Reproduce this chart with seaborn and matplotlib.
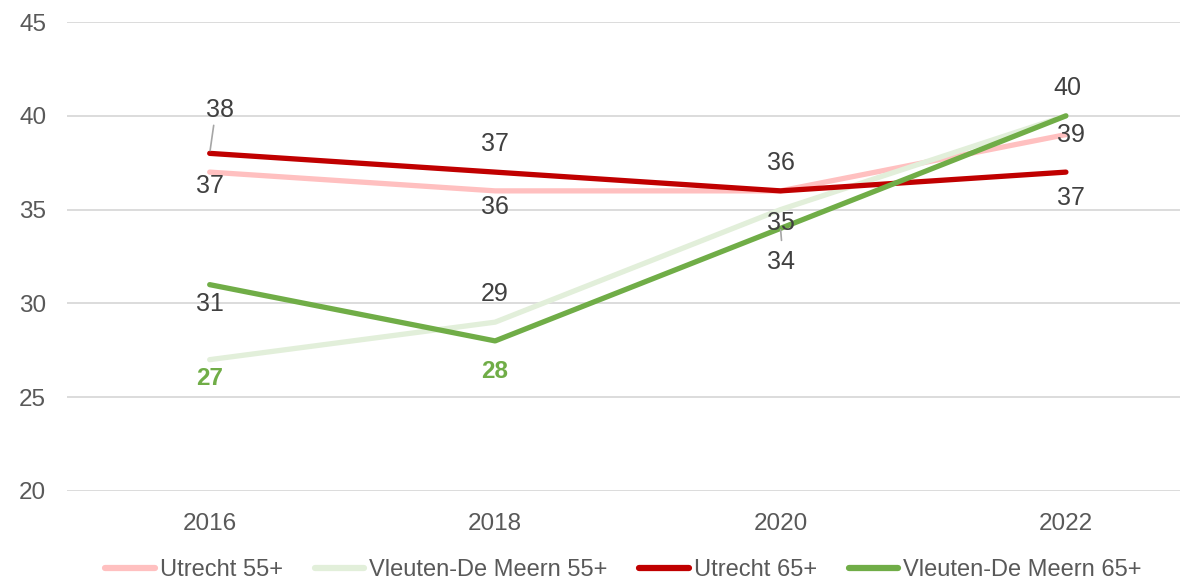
import matplotlib
matplotlib.use("Agg")
import matplotlib.pyplot as plt
import seaborn as sns
import pandas as pd

years = ["2016", "2018", "2020", "2022"]
series_names = ["Utrecht 55+", "Vleuten-De Meern 55+", "Utrecht 65+", "Vleuten-De Meern 65+"]
utrecht_55 = [37, 36, 36, 39]
vleuten_55 = [27, 29, 35, 40]
utrecht_65 = [38, 37, 36, 37]
vleuten_65 = [31, 28, 34, 40]
colors = ["#FFC0C0", "#E2EFDA", "#C00000", "#70AD47"]
y_ticks = [20, 25, 30, 35, 40, 45]

values = [utrecht_55, vleuten_55, utrecht_65, vleuten_65]
df = pd.DataFrame({
    "year": years * 4,
    "value": [v for s in values for v in s],
    "series": [n for n in series_names for _ in years],
})

sns.set_theme(style="white")
plt.rcParams["font.family"] = ["Liberation Sans", "DejaVu Sans"]

fig = plt.figure(figsize=(11.92, 5.81), dpi=100)
ax = fig.add_axes([0.0562, 0.155, 0.9338, 0.807])

sns.lineplot(data=df, x="year", y="value", hue="series", hue_order=series_names,
             palette=dict(zip(series_names, colors)), sort=False, linewidth=3.8,
             ax=ax, legend=True, solid_capstyle="round")

ax.set_ylim(20, 45)
ax.set_xlim(-0.5, 3.4)
ax.set_yticks(y_ticks)
ax.yaxis.grid(True, color="#D9D9D9", linewidth=1.3)
ax.xaxis.grid(False)
ax.set_axisbelow(True)
for s in ax.spines.values():
    s.set_visible(False)
ax.set_xlabel("")
ax.set_ylabel("")
ax.tick_params(axis="both", length=0, labelsize=17.5, colors="#595959")
ax.tick_params(axis="x", pad=16)
ax.tick_params(axis="y", pad=15)

# data labels: (series index, x index, dx px, dy px, bold-green?)
label_specs = [
    (2, 0, 10, 43, False),
    (0, 0, 0, -14, False),
    (2, 1, 0, 28, False),
    (0, 1, 0, -16, False),
    (2, 2, 0, 28, False),
    (1, 2, 0, -13, False),
    (3, 2, 0, -34, False),
    (3, 3, 1, 28, False),
    (0, 3, 5, 0, False),
    (2, 3, 5, -26, False),
    (3, 0, 0, -19, False),
    (1, 0, 0, -19, True),
    (1, 1, 0, 28, False),
    (3, 1, 0, -31, True),
]
for si, xi, dx, dy, bold in label_specs:
    v = values[si][xi]
    ax.annotate(str(v), xy=(xi, v), xytext=(dx, dy), textcoords="offset pixels",
                ha="center", va="center", fontsize=18 if not bold else 17.5,
                color="#70AD47" if bold else "#404040",
                fontweight="bold" if bold else "normal", zorder=5)

# leader lines
ax.annotate("", xy=(0, utrecht_65[0]), xytext=(4, 28), textcoords="offset pixels",
            arrowprops=dict(arrowstyle="-", color="#A6A6A6", lw=1.2, shrinkA=0, shrinkB=2))
ax.annotate("", xy=(2, vleuten_65[2]), xytext=(1, -12), textcoords="offset pixels",
            arrowprops=dict(arrowstyle="-", color="#A6A6A6", lw=1.2, shrinkA=0, shrinkB=1))

handles, labels = ax.get_legend_handles_labels()
ax.get_legend().remove()
leg = fig.legend(handles, labels, loc="lower center", bbox_to_anchor=(0.523, -0.037), ncol=4,
                 frameon=False, fontsize=17, handlelength=2.1, handletextpad=0.2,
                 columnspacing=1.35)
for t in leg.get_texts():
    t.set_color("#595959")
for h in leg.get_lines():
    h.set_linewidth(4.5)
    h.set_solid_capstyle("round")

fig.savefig("out.png", dpi=100)
